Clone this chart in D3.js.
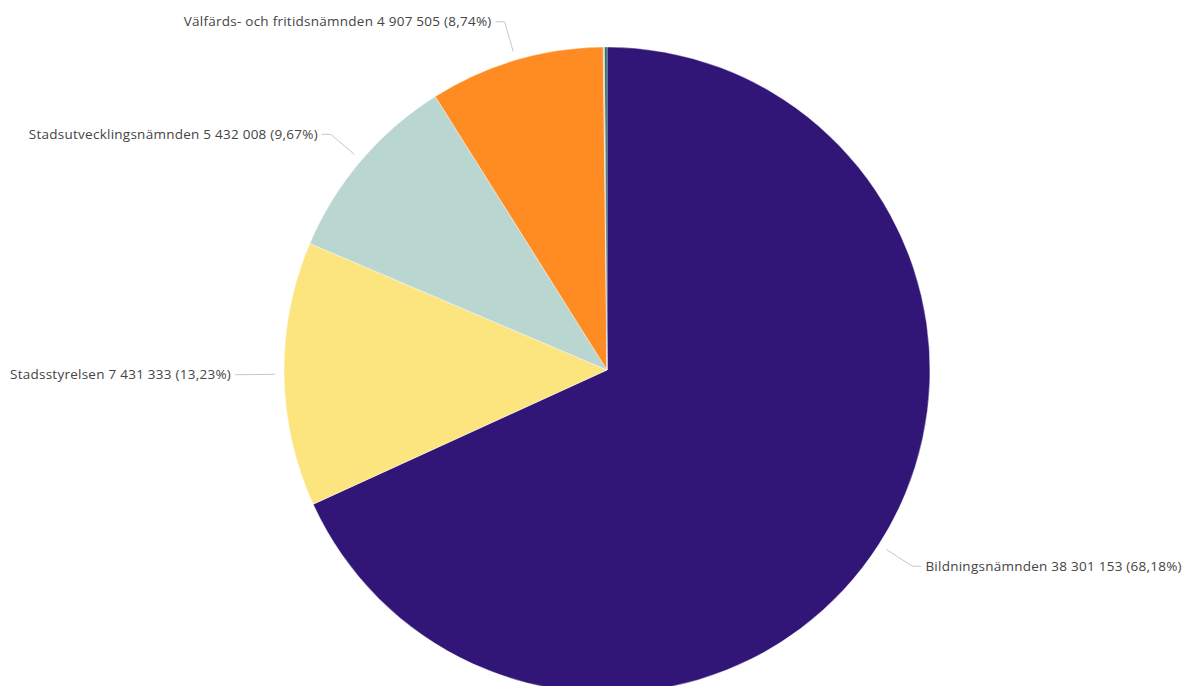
<!DOCTYPE html>
<html>
<head>
<meta charset="utf-8">
<script src="https://cdn.jsdelivr.net/npm/d3@7"></script>
<style>
  body { margin: 0; background: #fff; }
  svg text { font-family: "Segoe UI", "Open Sans", "Noto Sans", sans-serif; }
</style>
</head>
<body>
<svg id="chart" width="1184" height="686"></svg>
<script>
// data (in clockwise order from 12 o'clock)
var names = ["Bildningsnämnden", "Stadsstyrelsen", "Stadsutvecklingsnämnden",
  "Välfärds- och fritidsnämnden", "Övrigt 1", "Övrigt 2"];
var values = [38301153, 7431333, 5432008, 4907505, 40000, 64500];
var colors = ["#311677", "#FCE57E", "#BAD6D0", "#FF8C23", "#E8B8B0", "#0F6B58"];
var showLabel = [true, true, true, true, false, false];

var svg = d3.select('#chart');

var cx = 607,
  cy = 370,
  radius = 323;

var locale = d3.formatLocale({ decimal: ",", thousands: "\u00a0", grouping: [3], currency: ["", ""] });
var fmtNum = locale.format(",d"),
  fmtPct = locale.format(".2%");

var dataset = names.map(function(n, i) {
  return { name: n, val: values[i], color: colors[i], label: showLabel[i] };
});
var total = d3.sum(values);

var pie = d3.pie()
  .sort(null)
  .value(function(d) { return d.val; });

var arc = d3.arc()
  .innerRadius(0)
  .outerRadius(radius);

var g = svg.append('g')
  .attr('transform', 'translate(' + cx + ',' + cy + ')');

var arcs = pie(dataset);

g.selectAll('path.slice')
  .data(arcs)
  .enter().append('path')
  .attr('class', 'slice')
  .attr('d', arc)
  .style('fill', function(d) { return d.data.color; })
  .style('stroke', '#fff')
  .style('stroke-width', 0.4);

// leader lines + labels
var labelled = arcs.filter(function(d) { return d.data.label; });

function pt(a, r) {
  return [Math.sin(a) * r, -Math.cos(a) * r];
}

var lab = g.selectAll('g.label')
  .data(labelled)
  .enter().append('g')
  .attr('class', 'label');

lab.append('polyline')
  .attr('points', function(d) {
    var a = (d.startAngle + d.endAngle) / 2;
    var p1 = pt(a, radius + 9),
      p2 = pt(a, radius + 40);
    var side = Math.sin(a) >= 0 ? 1 : -1;
    var p3 = [p2[0] + side * 9, p2[1]];
    return [p1, p2, p3].map(function(p) { return p.join(','); }).join(' ');
  })
  .style('fill', 'none')
  .style('stroke', '#c8c8c8')
  .style('stroke-width', 1);

lab.append('text')
  .attr('x', function(d) {
    var a = (d.startAngle + d.endAngle) / 2;
    var p2 = pt(a, radius + 40);
    var side = Math.sin(a) >= 0 ? 1 : -1;
    return p2[0] + side * 13;
  })
  .attr('y', function(d) {
    var a = (d.startAngle + d.endAngle) / 2;
    return pt(a, radius + 40)[1];
  })
  .attr('dy', '0.35em')
  .attr('text-anchor', function(d) {
    var a = (d.startAngle + d.endAngle) / 2;
    return Math.sin(a) >= 0 ? 'start' : 'end';
  })
  .style('font-size', '13.5px')
  .style('letter-spacing', '0.25px')
  .style('fill', '#444')
  .text(function(d) {
    return d.data.name + ' ' + fmtNum(d.data.val) + ' (' + fmtPct(d.data.val / total) + ')';
  });
</script>
</body>
</html>
